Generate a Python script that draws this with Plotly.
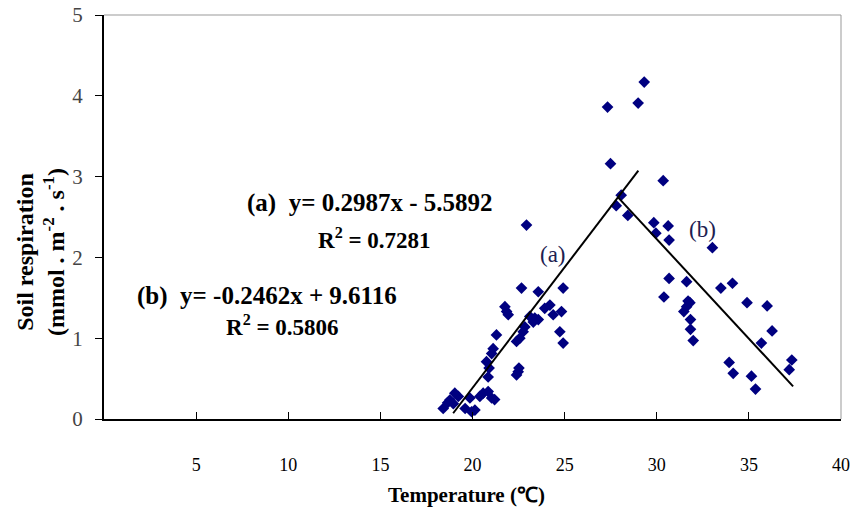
import plotly.graph_objects as go

# soil temperature (deg C) and soil respiration
temp = [18.41, 18.77, 19.04, 19.23, 18.96, 18.65,
        19.6, 19.95, 20.13, 19.86,
        20.4, 20.58, 20.85, 21.04, 21.2,
        20.85, 20.9, 20.76, 21.04, 21.12, 21.3,
        22.39, 22.48, 22.52,
        21.76, 21.85, 21.94,
        22.66, 23.57, 24.92, 23.92, 24.2,
        23.11, 23.38, 23.57, 23.3,
        24.38, 24.83, 24.74, 24.92,
        22.84, 22.75, 22.57, 22.39,
        22.93,
        27.33, 27.49, 28.99, 29.32,
        28.07, 27.8, 28.43,
        30.35, 29.84, 30.62, 29.95, 30.67, 33.02,
        30.67, 31.62, 30.39,
        31.8, 31.62, 31.47, 31.7, 31.83, 31.83, 31.98,
        33.48, 34.11, 34.9, 35.99, 36.26, 35.68,
        33.93, 34.15, 35.14, 35.36, 37.33, 37.19]
resp = [0.13, 0.235, 0.32, 0.28, 0.19, 0.20,
        0.13, 0.09, 0.11, 0.26,
        0.28, 0.32, 0.34, 0.26, 0.24,
        0.52, 0.63, 0.71, 0.81, 0.87, 1.04,
        0.545, 0.585, 0.63,
        1.39, 1.33, 1.29,
        1.62, 1.575, 1.62, 1.37, 1.41,
        1.27, 1.25, 1.23, 1.2,
        1.29, 1.33, 1.08, 0.94,
        1.14, 1.08, 1.0, 0.96,
        2.40,
        3.86, 3.16, 3.91, 4.17,
        2.77, 2.64, 2.52,
        2.95, 2.43, 2.39, 2.30, 2.215, 2.12,
        1.74, 1.70, 1.51,
        1.44, 1.39, 1.33, 1.46, 1.23, 1.11, 0.97,
        1.62, 1.68, 1.44, 1.40, 1.09, 0.94,
        0.70, 0.565, 0.53, 0.37, 0.73, 0.61]

# regression lines: slope, intercept, x range
slope_a, icpt_a, xr_a = 0.2987, -5.5892, [18.95, 29.0]
slope_b, icpt_b, xr_b = -0.2462, 9.6116, [27.9, 37.4]

xticks = [5, 10, 15, 20, 25, 30, 35, 40]
yticks = [0, 1, 2, 3, 4, 5]

serif = "Liberation Serif"

fig = go.Figure()
fig.add_trace(go.Scatter(x=temp, y=resp, mode="markers",
                         marker=dict(symbol="diamond", size=9, color="#000080",
                                     line=dict(width=0)),
                         showlegend=False))
for s, c, xr in [(slope_a, icpt_a, xr_a), (slope_b, icpt_b, xr_b)]:
    fig.add_trace(go.Scatter(x=xr, y=[s * v + c for v in xr], mode="lines",
                             line=dict(color="black", width=2),
                             showlegend=False))

eq_font = dict(family=serif, size=25, color="black")
r2_font = dict(family=serif, size=23, color="black")
notes = [
    (14.43, 2.67, "<b>(a)  y= 0.2987x - 5.5892</b>", eq_font),
    (14.7, 2.24, "<b>R<sup>2</sup> = 0.7281</b>", r2_font),
    (8.87, 1.52, "<b>(b)  y= -0.2462x + 9.6116</b>", eq_font),
    (9.71, 1.16, "<b>R<sup>2</sup> = 0.5806</b>", r2_font),
]
for x, y, t, f in notes:
    fig.add_annotation(x=x, y=y, text=t, showarrow=False, font=f)
fig.add_annotation(x=24.36, y=2.03, text="(a)", showarrow=False,
                   font=dict(family=serif, size=23, color="#202050"))
fig.add_annotation(x=32.5, y=2.35, text="(b)", showarrow=False,
                   font=dict(family=serif, size=23, color="#202050"))

# axis titles
fig.add_annotation(xref="paper", yref="paper", x=0.4925, y=-0.188,
                   xanchor="center", yanchor="middle",
                   text="<b>Temperature (\u2103)</b>", showarrow=False,
                   font=dict(family=serif, size=21, color="black"))
fig.add_annotation(xref="paper", yref="paper", x=-0.087, y=0.413,
                   xanchor="center", yanchor="middle",
                   text="<b>Soil respiration<br>(mmol . m<sup>-2</sup> . s<sup>-1</sup>)</b>",
                   textangle=-90, showarrow=False,
                   font=dict(family=serif, size=24, color="black"))

# grey top and right frame
fig.add_shape(type="line", xref="paper", yref="paper", x0=0, x1=1, y0=1, y1=1,
              line=dict(color="#999999", width=1))
fig.add_shape(type="line", xref="paper", yref="paper", x0=1, x1=1, y0=0, y1=1,
              line=dict(color="#999999", width=1))

fig.update_xaxes(range=[0, 40], tickvals=xticks, ticks="inside", ticklen=7,
                 tickcolor="black", showline=True, linecolor="black", linewidth=2,
                 showgrid=False, zeroline=False, ticklabelstandoff=28,
                 automargin=False,
                 tickfont=dict(family=serif, size=18, color="black"))
fig.update_yaxes(range=[0, 5], tickvals=yticks, ticks="outside", ticklen=7,
                 tickcolor="black", showline=True, linecolor="black", linewidth=2,
                 showgrid=False, zeroline=False, ticklabelstandoff=8,
                 automargin=False,
                 tickfont=dict(family=serif, size=21, color="#444444"))

fig.update_layout(width=853, height=510, plot_bgcolor="white", paper_bgcolor="white",
                  margin=dict(l=104, r=12, t=15, b=91))

# drop the default 8px page margin so the figure fills the window
fig.write_html("out.html", config={"displayModeBar": False},
               post_script="document.body.style.margin='0';")
